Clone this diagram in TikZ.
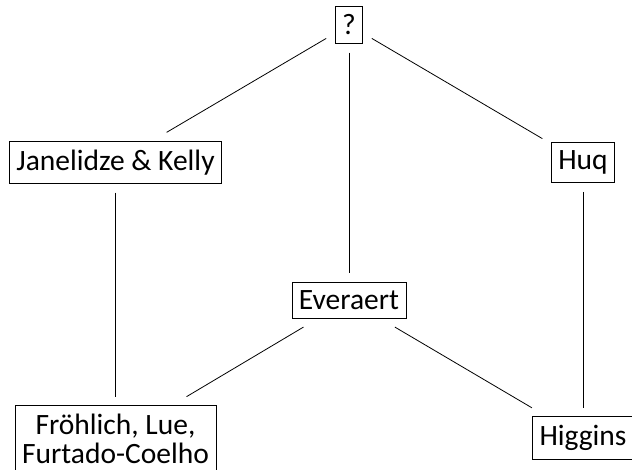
\documentclass[tikz,border=0pt]{standalone}
\usepackage{fontspec}
\setmainfont{Carlito}
\begin{document}
\begin{tikzpicture}[x=1pt,y=-1pt,
  box/.style={draw, line width=0.8pt, inner xsep=7pt, inner ysep=8.5pt, outer sep=9pt,
    font=\fontsize{29.5}{29}\selectfont},
  link/.style={line width=0.8pt}]
\clip (0,0) rectangle (632,470);
\useasboundingbox (0,0) rectangle (632,470);
\node[box] (q) at (349,25) {?};
\node[box] (jk) at (115.5,162.5) {Janelidze \& Kelly};
\node[box] (huq) at (583,162.5) {Huq};
\node[box] (ev) at (349,300) {Everaert};
\node[box, align=center] (fr) at (115.5,439) {Fröhlich, Lue,\\Furtado-Coelho};
\node[box] (hig) at (583,438) {Higgins};
\draw[link] (q) -- (jk);
\draw[link] (q) -- (huq);
\draw[link] (q) -- (ev);
\draw[link] (jk) -- (fr);
\draw[link] (huq) -- (hig);
\draw[link] (ev) -- (fr);
\draw[link] (ev) -- (hig);
\end{tikzpicture}
\end{document}
